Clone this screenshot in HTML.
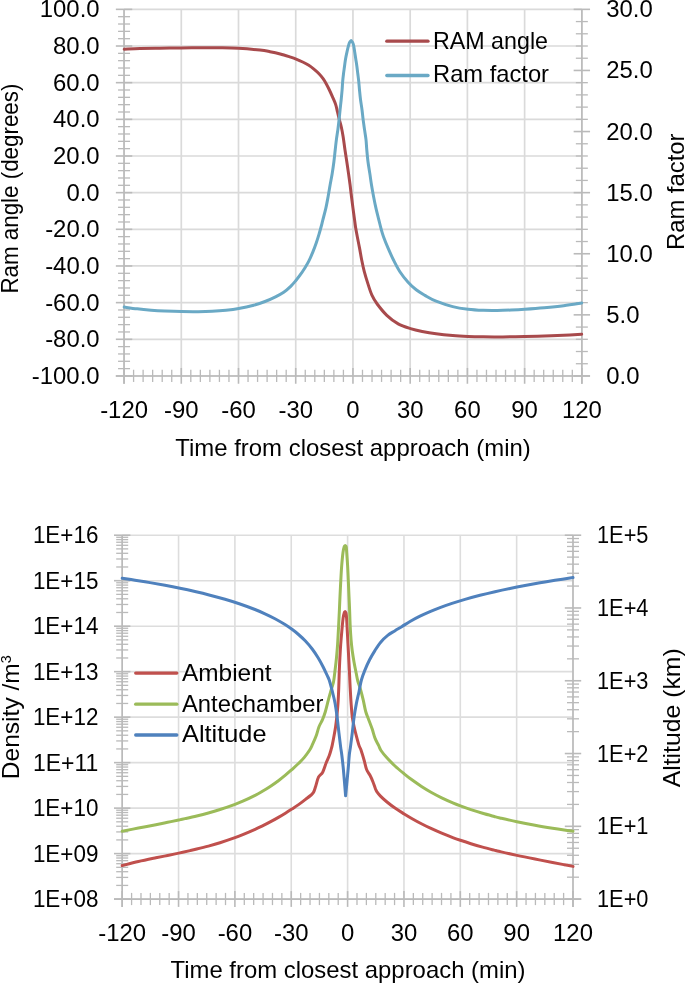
<!DOCTYPE html>
<html><head><meta charset="utf-8"><title>Flyby charts</title>
<style>html,body{margin:0;padding:0;background:#fff}svg{display:block}text{font-family:"Liberation Sans", sans-serif;fill:#000}</style>
</head><body>
<svg width="685" height="984" viewBox="0 0 685 984">
<rect width="685" height="984" fill="#fff"/>
<g id="c1grid">
<line x1="124.05" y1="9.35" x2="581.85" y2="9.35" stroke="#dadada" stroke-width="1.7"/>
<line x1="124.05" y1="46.01" x2="581.85" y2="46.01" stroke="#dadada" stroke-width="1.7"/>
<line x1="124.05" y1="82.67" x2="581.85" y2="82.67" stroke="#dadada" stroke-width="1.7"/>
<line x1="124.05" y1="119.33" x2="581.85" y2="119.33" stroke="#dadada" stroke-width="1.7"/>
<line x1="124.05" y1="155.99" x2="581.85" y2="155.99" stroke="#dadada" stroke-width="1.7"/>
<line x1="124.05" y1="192.65" x2="581.85" y2="192.65" stroke="#dadada" stroke-width="1.7"/>
<line x1="124.05" y1="229.31" x2="581.85" y2="229.31" stroke="#dadada" stroke-width="1.7"/>
<line x1="124.05" y1="265.97" x2="581.85" y2="265.97" stroke="#dadada" stroke-width="1.7"/>
<line x1="124.05" y1="302.63" x2="581.85" y2="302.63" stroke="#dadada" stroke-width="1.7"/>
<line x1="124.05" y1="339.29" x2="581.85" y2="339.29" stroke="#dadada" stroke-width="1.7"/>
<line x1="124.05" y1="375.95" x2="581.85" y2="375.95" stroke="#dadada" stroke-width="1.7"/>
<line x1="124.05" y1="9.35" x2="124.05" y2="375.95" stroke="#dadada" stroke-width="1.7"/>
<line x1="181.28" y1="9.35" x2="181.28" y2="375.95" stroke="#dadada" stroke-width="1.7"/>
<line x1="238.5" y1="9.35" x2="238.5" y2="375.95" stroke="#dadada" stroke-width="1.7"/>
<line x1="295.73" y1="9.35" x2="295.73" y2="375.95" stroke="#dadada" stroke-width="1.7"/>
<line x1="352.95" y1="9.35" x2="352.95" y2="375.95" stroke="#dadada" stroke-width="1.7"/>
<line x1="410.18" y1="9.35" x2="410.18" y2="375.95" stroke="#dadada" stroke-width="1.7"/>
<line x1="467.4" y1="9.35" x2="467.4" y2="375.95" stroke="#dadada" stroke-width="1.7"/>
<line x1="524.62" y1="9.35" x2="524.62" y2="375.95" stroke="#dadada" stroke-width="1.7"/>
<line x1="581.85" y1="9.35" x2="581.85" y2="375.95" stroke="#dadada" stroke-width="1.7"/>
</g>
<g id="c1axes">
<line x1="124.05" y1="9.35" x2="124.05" y2="383.75" stroke="#bababa" stroke-width="1.6"/>
<line x1="581.85" y1="9.35" x2="581.85" y2="383.75" stroke="#bababa" stroke-width="1.6"/>
<line x1="115.85" y1="375.95" x2="590.05" y2="375.95" stroke="#bababa" stroke-width="1.6"/>
<line x1="115.85" y1="9.35" x2="132.25" y2="9.35" stroke="#bababa" stroke-width="1.6"/>
<line x1="115.85" y1="46.01" x2="132.25" y2="46.01" stroke="#bababa" stroke-width="1.6"/>
<line x1="115.85" y1="82.67" x2="132.25" y2="82.67" stroke="#bababa" stroke-width="1.6"/>
<line x1="115.85" y1="119.33" x2="132.25" y2="119.33" stroke="#bababa" stroke-width="1.6"/>
<line x1="115.85" y1="155.99" x2="132.25" y2="155.99" stroke="#bababa" stroke-width="1.6"/>
<line x1="115.85" y1="192.65" x2="132.25" y2="192.65" stroke="#bababa" stroke-width="1.6"/>
<line x1="115.85" y1="229.31" x2="132.25" y2="229.31" stroke="#bababa" stroke-width="1.6"/>
<line x1="115.85" y1="265.97" x2="132.25" y2="265.97" stroke="#bababa" stroke-width="1.6"/>
<line x1="115.85" y1="302.63" x2="132.25" y2="302.63" stroke="#bababa" stroke-width="1.6"/>
<line x1="115.85" y1="339.29" x2="132.25" y2="339.29" stroke="#bababa" stroke-width="1.6"/>
<line x1="115.85" y1="375.95" x2="132.25" y2="375.95" stroke="#bababa" stroke-width="1.6"/>
<line x1="118.05" y1="16.68" x2="130.05" y2="16.68" stroke="#bababa" stroke-width="1.3"/>
<line x1="118.05" y1="24.01" x2="130.05" y2="24.01" stroke="#bababa" stroke-width="1.3"/>
<line x1="118.05" y1="31.35" x2="130.05" y2="31.35" stroke="#bababa" stroke-width="1.3"/>
<line x1="118.05" y1="38.68" x2="130.05" y2="38.68" stroke="#bababa" stroke-width="1.3"/>
<line x1="118.05" y1="53.34" x2="130.05" y2="53.34" stroke="#bababa" stroke-width="1.3"/>
<line x1="118.05" y1="60.67" x2="130.05" y2="60.67" stroke="#bababa" stroke-width="1.3"/>
<line x1="118.05" y1="68.01" x2="130.05" y2="68.01" stroke="#bababa" stroke-width="1.3"/>
<line x1="118.05" y1="75.34" x2="130.05" y2="75.34" stroke="#bababa" stroke-width="1.3"/>
<line x1="118.05" y1="90" x2="130.05" y2="90" stroke="#bababa" stroke-width="1.3"/>
<line x1="118.05" y1="97.33" x2="130.05" y2="97.33" stroke="#bababa" stroke-width="1.3"/>
<line x1="118.05" y1="104.67" x2="130.05" y2="104.67" stroke="#bababa" stroke-width="1.3"/>
<line x1="118.05" y1="112" x2="130.05" y2="112" stroke="#bababa" stroke-width="1.3"/>
<line x1="118.05" y1="126.66" x2="130.05" y2="126.66" stroke="#bababa" stroke-width="1.3"/>
<line x1="118.05" y1="133.99" x2="130.05" y2="133.99" stroke="#bababa" stroke-width="1.3"/>
<line x1="118.05" y1="141.33" x2="130.05" y2="141.33" stroke="#bababa" stroke-width="1.3"/>
<line x1="118.05" y1="148.66" x2="130.05" y2="148.66" stroke="#bababa" stroke-width="1.3"/>
<line x1="118.05" y1="163.32" x2="130.05" y2="163.32" stroke="#bababa" stroke-width="1.3"/>
<line x1="118.05" y1="170.65" x2="130.05" y2="170.65" stroke="#bababa" stroke-width="1.3"/>
<line x1="118.05" y1="177.99" x2="130.05" y2="177.99" stroke="#bababa" stroke-width="1.3"/>
<line x1="118.05" y1="185.32" x2="130.05" y2="185.32" stroke="#bababa" stroke-width="1.3"/>
<line x1="118.05" y1="199.98" x2="130.05" y2="199.98" stroke="#bababa" stroke-width="1.3"/>
<line x1="118.05" y1="207.31" x2="130.05" y2="207.31" stroke="#bababa" stroke-width="1.3"/>
<line x1="118.05" y1="214.65" x2="130.05" y2="214.65" stroke="#bababa" stroke-width="1.3"/>
<line x1="118.05" y1="221.98" x2="130.05" y2="221.98" stroke="#bababa" stroke-width="1.3"/>
<line x1="118.05" y1="236.64" x2="130.05" y2="236.64" stroke="#bababa" stroke-width="1.3"/>
<line x1="118.05" y1="243.97" x2="130.05" y2="243.97" stroke="#bababa" stroke-width="1.3"/>
<line x1="118.05" y1="251.31" x2="130.05" y2="251.31" stroke="#bababa" stroke-width="1.3"/>
<line x1="118.05" y1="258.64" x2="130.05" y2="258.64" stroke="#bababa" stroke-width="1.3"/>
<line x1="118.05" y1="273.3" x2="130.05" y2="273.3" stroke="#bababa" stroke-width="1.3"/>
<line x1="118.05" y1="280.63" x2="130.05" y2="280.63" stroke="#bababa" stroke-width="1.3"/>
<line x1="118.05" y1="287.97" x2="130.05" y2="287.97" stroke="#bababa" stroke-width="1.3"/>
<line x1="118.05" y1="295.3" x2="130.05" y2="295.3" stroke="#bababa" stroke-width="1.3"/>
<line x1="118.05" y1="309.96" x2="130.05" y2="309.96" stroke="#bababa" stroke-width="1.3"/>
<line x1="118.05" y1="317.29" x2="130.05" y2="317.29" stroke="#bababa" stroke-width="1.3"/>
<line x1="118.05" y1="324.63" x2="130.05" y2="324.63" stroke="#bababa" stroke-width="1.3"/>
<line x1="118.05" y1="331.96" x2="130.05" y2="331.96" stroke="#bababa" stroke-width="1.3"/>
<line x1="118.05" y1="346.62" x2="130.05" y2="346.62" stroke="#bababa" stroke-width="1.3"/>
<line x1="118.05" y1="353.95" x2="130.05" y2="353.95" stroke="#bababa" stroke-width="1.3"/>
<line x1="118.05" y1="361.29" x2="130.05" y2="361.29" stroke="#bababa" stroke-width="1.3"/>
<line x1="118.05" y1="368.62" x2="130.05" y2="368.62" stroke="#bababa" stroke-width="1.3"/>
<line x1="573.65" y1="9.35" x2="590.05" y2="9.35" stroke="#bababa" stroke-width="1.6"/>
<line x1="573.65" y1="70.45" x2="590.05" y2="70.45" stroke="#bababa" stroke-width="1.6"/>
<line x1="573.65" y1="131.55" x2="590.05" y2="131.55" stroke="#bababa" stroke-width="1.6"/>
<line x1="573.65" y1="192.65" x2="590.05" y2="192.65" stroke="#bababa" stroke-width="1.6"/>
<line x1="573.65" y1="253.75" x2="590.05" y2="253.75" stroke="#bababa" stroke-width="1.6"/>
<line x1="573.65" y1="314.85" x2="590.05" y2="314.85" stroke="#bababa" stroke-width="1.6"/>
<line x1="573.65" y1="375.95" x2="590.05" y2="375.95" stroke="#bababa" stroke-width="1.6"/>
<line x1="575.85" y1="21.57" x2="587.85" y2="21.57" stroke="#bababa" stroke-width="1.3"/>
<line x1="575.85" y1="33.79" x2="587.85" y2="33.79" stroke="#bababa" stroke-width="1.3"/>
<line x1="575.85" y1="46.01" x2="587.85" y2="46.01" stroke="#bababa" stroke-width="1.3"/>
<line x1="575.85" y1="58.23" x2="587.85" y2="58.23" stroke="#bababa" stroke-width="1.3"/>
<line x1="575.85" y1="82.67" x2="587.85" y2="82.67" stroke="#bababa" stroke-width="1.3"/>
<line x1="575.85" y1="94.89" x2="587.85" y2="94.89" stroke="#bababa" stroke-width="1.3"/>
<line x1="575.85" y1="107.11" x2="587.85" y2="107.11" stroke="#bababa" stroke-width="1.3"/>
<line x1="575.85" y1="119.33" x2="587.85" y2="119.33" stroke="#bababa" stroke-width="1.3"/>
<line x1="575.85" y1="143.77" x2="587.85" y2="143.77" stroke="#bababa" stroke-width="1.3"/>
<line x1="575.85" y1="155.99" x2="587.85" y2="155.99" stroke="#bababa" stroke-width="1.3"/>
<line x1="575.85" y1="168.21" x2="587.85" y2="168.21" stroke="#bababa" stroke-width="1.3"/>
<line x1="575.85" y1="180.43" x2="587.85" y2="180.43" stroke="#bababa" stroke-width="1.3"/>
<line x1="575.85" y1="204.87" x2="587.85" y2="204.87" stroke="#bababa" stroke-width="1.3"/>
<line x1="575.85" y1="217.09" x2="587.85" y2="217.09" stroke="#bababa" stroke-width="1.3"/>
<line x1="575.85" y1="229.31" x2="587.85" y2="229.31" stroke="#bababa" stroke-width="1.3"/>
<line x1="575.85" y1="241.53" x2="587.85" y2="241.53" stroke="#bababa" stroke-width="1.3"/>
<line x1="575.85" y1="265.97" x2="587.85" y2="265.97" stroke="#bababa" stroke-width="1.3"/>
<line x1="575.85" y1="278.19" x2="587.85" y2="278.19" stroke="#bababa" stroke-width="1.3"/>
<line x1="575.85" y1="290.41" x2="587.85" y2="290.41" stroke="#bababa" stroke-width="1.3"/>
<line x1="575.85" y1="302.63" x2="587.85" y2="302.63" stroke="#bababa" stroke-width="1.3"/>
<line x1="575.85" y1="327.07" x2="587.85" y2="327.07" stroke="#bababa" stroke-width="1.3"/>
<line x1="575.85" y1="339.29" x2="587.85" y2="339.29" stroke="#bababa" stroke-width="1.3"/>
<line x1="575.85" y1="351.51" x2="587.85" y2="351.51" stroke="#bababa" stroke-width="1.3"/>
<line x1="575.85" y1="363.73" x2="587.85" y2="363.73" stroke="#bababa" stroke-width="1.3"/>
<line x1="124.05" y1="367.95" x2="124.05" y2="383.75" stroke="#bababa" stroke-width="1.6"/>
<line x1="133.59" y1="369.75" x2="133.59" y2="381.95" stroke="#bababa" stroke-width="1.3"/>
<line x1="143.12" y1="369.75" x2="143.12" y2="381.95" stroke="#bababa" stroke-width="1.3"/>
<line x1="152.66" y1="369.75" x2="152.66" y2="381.95" stroke="#bababa" stroke-width="1.3"/>
<line x1="162.2" y1="369.75" x2="162.2" y2="381.95" stroke="#bababa" stroke-width="1.3"/>
<line x1="171.74" y1="369.75" x2="171.74" y2="381.95" stroke="#bababa" stroke-width="1.3"/>
<line x1="181.28" y1="367.95" x2="181.28" y2="383.75" stroke="#bababa" stroke-width="1.6"/>
<line x1="190.81" y1="369.75" x2="190.81" y2="381.95" stroke="#bababa" stroke-width="1.3"/>
<line x1="200.35" y1="369.75" x2="200.35" y2="381.95" stroke="#bababa" stroke-width="1.3"/>
<line x1="209.89" y1="369.75" x2="209.89" y2="381.95" stroke="#bababa" stroke-width="1.3"/>
<line x1="219.43" y1="369.75" x2="219.43" y2="381.95" stroke="#bababa" stroke-width="1.3"/>
<line x1="228.96" y1="369.75" x2="228.96" y2="381.95" stroke="#bababa" stroke-width="1.3"/>
<line x1="238.5" y1="367.95" x2="238.5" y2="383.75" stroke="#bababa" stroke-width="1.6"/>
<line x1="248.04" y1="369.75" x2="248.04" y2="381.95" stroke="#bababa" stroke-width="1.3"/>
<line x1="257.57" y1="369.75" x2="257.57" y2="381.95" stroke="#bababa" stroke-width="1.3"/>
<line x1="267.11" y1="369.75" x2="267.11" y2="381.95" stroke="#bababa" stroke-width="1.3"/>
<line x1="276.65" y1="369.75" x2="276.65" y2="381.95" stroke="#bababa" stroke-width="1.3"/>
<line x1="286.19" y1="369.75" x2="286.19" y2="381.95" stroke="#bababa" stroke-width="1.3"/>
<line x1="295.72" y1="367.95" x2="295.72" y2="383.75" stroke="#bababa" stroke-width="1.6"/>
<line x1="305.26" y1="369.75" x2="305.26" y2="381.95" stroke="#bababa" stroke-width="1.3"/>
<line x1="314.8" y1="369.75" x2="314.8" y2="381.95" stroke="#bababa" stroke-width="1.3"/>
<line x1="324.34" y1="369.75" x2="324.34" y2="381.95" stroke="#bababa" stroke-width="1.3"/>
<line x1="333.88" y1="369.75" x2="333.88" y2="381.95" stroke="#bababa" stroke-width="1.3"/>
<line x1="343.41" y1="369.75" x2="343.41" y2="381.95" stroke="#bababa" stroke-width="1.3"/>
<line x1="352.95" y1="367.95" x2="352.95" y2="383.75" stroke="#bababa" stroke-width="1.6"/>
<line x1="362.49" y1="369.75" x2="362.49" y2="381.95" stroke="#bababa" stroke-width="1.3"/>
<line x1="372.03" y1="369.75" x2="372.03" y2="381.95" stroke="#bababa" stroke-width="1.3"/>
<line x1="381.56" y1="369.75" x2="381.56" y2="381.95" stroke="#bababa" stroke-width="1.3"/>
<line x1="391.1" y1="369.75" x2="391.1" y2="381.95" stroke="#bababa" stroke-width="1.3"/>
<line x1="400.64" y1="369.75" x2="400.64" y2="381.95" stroke="#bababa" stroke-width="1.3"/>
<line x1="410.18" y1="367.95" x2="410.18" y2="383.75" stroke="#bababa" stroke-width="1.6"/>
<line x1="419.71" y1="369.75" x2="419.71" y2="381.95" stroke="#bababa" stroke-width="1.3"/>
<line x1="429.25" y1="369.75" x2="429.25" y2="381.95" stroke="#bababa" stroke-width="1.3"/>
<line x1="438.79" y1="369.75" x2="438.79" y2="381.95" stroke="#bababa" stroke-width="1.3"/>
<line x1="448.33" y1="369.75" x2="448.33" y2="381.95" stroke="#bababa" stroke-width="1.3"/>
<line x1="457.86" y1="369.75" x2="457.86" y2="381.95" stroke="#bababa" stroke-width="1.3"/>
<line x1="467.4" y1="367.95" x2="467.4" y2="383.75" stroke="#bababa" stroke-width="1.6"/>
<line x1="476.94" y1="369.75" x2="476.94" y2="381.95" stroke="#bababa" stroke-width="1.3"/>
<line x1="486.48" y1="369.75" x2="486.48" y2="381.95" stroke="#bababa" stroke-width="1.3"/>
<line x1="496.01" y1="369.75" x2="496.01" y2="381.95" stroke="#bababa" stroke-width="1.3"/>
<line x1="505.55" y1="369.75" x2="505.55" y2="381.95" stroke="#bababa" stroke-width="1.3"/>
<line x1="515.09" y1="369.75" x2="515.09" y2="381.95" stroke="#bababa" stroke-width="1.3"/>
<line x1="524.62" y1="367.95" x2="524.62" y2="383.75" stroke="#bababa" stroke-width="1.6"/>
<line x1="534.16" y1="369.75" x2="534.16" y2="381.95" stroke="#bababa" stroke-width="1.3"/>
<line x1="543.7" y1="369.75" x2="543.7" y2="381.95" stroke="#bababa" stroke-width="1.3"/>
<line x1="553.24" y1="369.75" x2="553.24" y2="381.95" stroke="#bababa" stroke-width="1.3"/>
<line x1="562.77" y1="369.75" x2="562.77" y2="381.95" stroke="#bababa" stroke-width="1.3"/>
<line x1="572.31" y1="369.75" x2="572.31" y2="381.95" stroke="#bababa" stroke-width="1.3"/>
<line x1="581.85" y1="367.95" x2="581.85" y2="383.75" stroke="#bababa" stroke-width="1.6"/>
</g>
<g id="c1curves">
<path d="M124.2 49.24C126.83 49.14 134.03 48.78 140 48.6C145.97 48.43 153.17 48.31 160 48.21C166.83 48.1 174.33 48.02 181 47.95C187.67 47.88 193.5 47.8 200 47.77C206.5 47.73 213.58 47.68 220 47.76C226.42 47.84 231.83 47.86 238.5 48.24C245.17 48.63 254.75 49.5 260 50.07C265.25 50.64 266.63 51.02 270 51.66C273.37 52.3 276.8 53.04 280.2 53.94C283.6 54.85 287.75 56.24 290.4 57.1C293.05 57.96 294.05 58.28 296.1 59.1C298.15 59.92 300.58 60.97 302.7 62C304.82 63.03 306.93 64.12 308.8 65.3C310.67 66.48 312.2 67.7 313.9 69.1C315.6 70.5 317.47 72.12 319 73.7C320.53 75.28 321.9 76.93 323.1 78.6C324.3 80.27 325.15 81.8 326.2 83.7C327.25 85.6 328.35 87.8 329.4 90C330.45 92.2 331.45 94.47 332.5 96.9C333.55 99.33 334.87 102.1 335.7 104.6C336.53 107.1 336.9 109.43 337.5 111.9C338.1 114.37 338.68 116.97 339.3 119.4C339.92 121.83 340.57 123.65 341.2 126.5C341.83 129.35 342.47 132.58 343.1 136.5C343.73 140.42 344.38 145.8 345 150C345.62 154.2 346.22 157.8 346.8 161.7C347.38 165.6 347.95 169.52 348.5 173.4C349.05 177.28 349.6 181.12 350.1 185C350.6 188.88 351.02 192.8 351.5 196.7C351.98 200.6 352.48 204.5 353 208.4C353.52 212.3 354.17 216.92 354.6 220.1C355.03 223.28 355.15 224.73 355.6 227.5C356.05 230.27 356.63 233.22 357.3 236.7C357.97 240.18 358.87 244.52 359.6 248.4C360.33 252.28 360.92 256.12 361.7 260C362.48 263.88 363.28 267.8 364.3 271.7C365.32 275.6 366.53 279.5 367.8 283.4C369.07 287.3 370.33 291.67 371.9 295.1C373.47 298.53 374.72 300.63 377.2 304C379.68 307.37 383.3 311.98 386.8 315.3C390.3 318.62 394.25 321.68 398.2 323.9C402.15 326.12 406.5 327.34 410.5 328.6C414.5 329.86 417.93 330.58 422.2 331.44C426.47 332.3 431.02 333.09 436.1 333.77C441.18 334.46 447.38 335.09 452.7 335.54C458.02 335.98 462.92 336.21 468 336.43C473.08 336.64 478.35 336.75 483.2 336.83C488.05 336.91 492.47 336.91 497.1 336.9C501.73 336.9 506.38 336.85 511 336.79C515.62 336.73 519.27 336.67 524.8 336.54C530.33 336.42 537.72 336.24 544.2 336.03C550.68 335.81 557.45 335.57 563.7 335.28C569.95 334.98 578.7 334.43 581.7 334.26" fill="none" stroke="#a84a4c" stroke-width="3" stroke-linecap="round" stroke-linejoin="round"/>
<path d="M124.2 307.08C126.37 307.38 132.72 308.34 137.2 308.86C141.68 309.37 146.48 309.8 151.1 310.16C155.72 310.52 159.82 310.77 164.9 311.01C169.98 311.24 176.05 311.47 181.6 311.58C187.15 311.68 193.12 311.71 198.2 311.66C203.28 311.6 207.47 311.49 212.1 311.25C216.73 311.01 221.57 310.67 226 310.22C230.43 309.76 234.08 309.35 238.7 308.51C243.32 307.68 249.32 306.37 253.7 305.2C258.08 304.03 261.37 302.88 265 301.48C268.63 300.08 272.38 298.35 275.5 296.8C278.62 295.25 281.17 293.95 283.7 292.2C286.23 290.45 288.67 288.25 290.7 286.3C292.73 284.35 294.35 282.35 295.9 280.5C297.45 278.65 298.53 277.25 300 275.2C301.47 273.15 303.23 270.53 304.7 268.2C306.17 265.87 307.43 263.92 308.8 261.2C310.17 258.48 311.63 255.02 312.9 251.9C314.17 248.78 315.33 245.62 316.4 242.5C317.47 239.38 318.43 236.12 319.3 233.2C320.17 230.28 321.02 227.18 321.6 225C322.18 222.82 322.1 222.87 322.8 220.1C323.5 217.33 324.92 212.3 325.8 208.4C326.68 204.5 327.38 200.6 328.1 196.7C328.82 192.8 329.42 188.88 330.1 185C330.78 181.12 331.57 177.28 332.2 173.4C332.83 169.52 333.4 165.6 333.9 161.7C334.4 157.8 334.78 153.68 335.2 150C335.62 146.32 335.95 143.03 336.4 139.6C336.85 136.17 337.45 132.77 337.9 129.4C338.35 126.03 338.73 122.68 339.1 119.4C339.47 116.12 339.75 113.02 340.1 109.7C340.45 106.38 340.87 102.78 341.2 99.5C341.53 96.22 341.85 93.07 342.1 90C342.35 86.93 342.47 83.8 342.7 81.1C342.93 78.4 343.2 76.23 343.5 73.8C343.8 71.37 344.17 68.93 344.5 66.5C344.83 64.07 345.08 61.63 345.5 59.2C345.92 56.77 346.5 54.15 347 51.9C347.5 49.65 348.07 47.28 348.5 45.7C348.93 44.12 349.15 43.25 349.6 42.4C350.05 41.55 350.93 40.9 351.2 40.6C351.43 40.9 352.18 41.55 352.6 42.4C353.02 43.25 353.35 44.12 353.7 45.7C354.05 47.28 354.35 49.65 354.7 51.9C355.05 54.15 355.43 56.77 355.8 59.2C356.17 61.63 356.57 64.07 356.9 66.5C357.23 68.93 357.5 71.37 357.8 73.8C358.1 76.23 358.42 78.4 358.7 81.1C358.98 83.8 359.2 86.93 359.5 90C359.8 93.07 360.08 96.22 360.5 99.5C360.92 102.78 361.57 106.38 362 109.7C362.43 113.02 362.68 116.12 363.1 119.4C363.52 122.68 364.02 126.03 364.5 129.4C364.98 132.77 365.62 136.17 366 139.6C366.38 143.03 366.47 146.32 366.8 150C367.13 153.68 367.5 157.8 368 161.7C368.5 165.6 369.22 169.52 369.8 173.4C370.38 177.28 370.87 181.12 371.5 185C372.13 188.88 372.85 192.8 373.6 196.7C374.35 200.6 375.12 204.5 376 208.4C376.88 212.3 378 216.5 378.9 220.1C379.8 223.7 380.63 227.23 381.4 230C382.17 232.77 382.37 233.63 383.5 236.7C384.63 239.77 386.53 244.52 388.2 248.4C389.87 252.28 391.55 256.12 393.5 260C395.45 263.88 397.47 268 399.9 271.7C402.33 275.4 405.38 279.18 408.1 282.2C410.82 285.22 413.38 287.6 416.2 289.8C419.02 292 421.68 293.5 425 295.4C428.32 297.3 431.48 299.33 436.1 301.2C440.72 303.07 447.38 305.27 452.7 306.61C458.02 307.96 462.92 308.64 468 309.27C473.08 309.9 478.35 310.17 483.2 310.37C488.05 310.58 492.47 310.54 497.1 310.49C501.73 310.43 506.38 310.25 511 310.05C515.62 309.84 519.27 309.65 524.8 309.26C530.33 308.88 537.72 308.34 544.2 307.74C550.68 307.14 557.45 306.47 563.7 305.66C569.95 304.86 578.7 303.38 581.7 302.92" fill="none" stroke="#6aa9c5" stroke-width="3" stroke-linecap="round" stroke-linejoin="round"/>
</g>
<g id="c1legend">
<path d="M386.8 41.2L428 41.2" fill="none" stroke="#a84a4c" stroke-width="3.3" stroke-linecap="round" stroke-linejoin="round"/>
<path d="M386.8 75.5L428 75.5" fill="none" stroke="#6aa9c5" stroke-width="3.3" stroke-linecap="round" stroke-linejoin="round"/>
</g>
<g id="c1labels" opacity="0.999">
<text x="433" y="48.6" font-size="23.8" text-anchor="start" textLength="115" lengthAdjust="spacingAndGlyphs">RAM angle</text>
<text x="433" y="81.6" font-size="23.8" text-anchor="start" textLength="116" lengthAdjust="spacingAndGlyphs">Ram factor</text>
<text transform="translate(99.6 17.35) scale(1.03 1)" font-size="23.2" text-anchor="end">100.0</text>
<text transform="translate(99.6 54.01) scale(1.03 1)" font-size="23.2" text-anchor="end">80.0</text>
<text transform="translate(99.6 90.67) scale(1.03 1)" font-size="23.2" text-anchor="end">60.0</text>
<text transform="translate(99.6 127.33) scale(1.03 1)" font-size="23.2" text-anchor="end">40.0</text>
<text transform="translate(99.6 163.99) scale(1.03 1)" font-size="23.2" text-anchor="end">20.0</text>
<text transform="translate(99.6 200.65) scale(1.03 1)" font-size="23.2" text-anchor="end">0.0</text>
<text transform="translate(99.6 237.31) scale(1.03 1)" font-size="23.2" text-anchor="end">-20.0</text>
<text transform="translate(99.6 273.97) scale(1.03 1)" font-size="23.2" text-anchor="end">-40.0</text>
<text transform="translate(99.6 310.63) scale(1.03 1)" font-size="23.2" text-anchor="end">-60.0</text>
<text transform="translate(99.6 347.29) scale(1.03 1)" font-size="23.2" text-anchor="end">-80.0</text>
<text transform="translate(99.6 383.95) scale(1.03 1)" font-size="23.2" text-anchor="end">-100.0</text>
<text transform="translate(606.2 17.35) scale(1.03 1)" font-size="23.2" text-anchor="start">30.0</text>
<text transform="translate(606.2 78.45) scale(1.03 1)" font-size="23.2" text-anchor="start">25.0</text>
<text transform="translate(606.2 139.55) scale(1.03 1)" font-size="23.2" text-anchor="start">20.0</text>
<text transform="translate(606.2 200.65) scale(1.03 1)" font-size="23.2" text-anchor="start">15.0</text>
<text transform="translate(606.2 261.75) scale(1.03 1)" font-size="23.2" text-anchor="start">10.0</text>
<text transform="translate(606.2 322.85) scale(1.03 1)" font-size="23.2" text-anchor="start">5.0</text>
<text transform="translate(606.2 383.95) scale(1.03 1)" font-size="23.2" text-anchor="start">0.0</text>
<text transform="translate(124.05 417.8) scale(1.03 1)" font-size="23.2" text-anchor="middle">-120</text>
<text transform="translate(181.28 417.8) scale(1.03 1)" font-size="23.2" text-anchor="middle">-90</text>
<text transform="translate(238.5 417.8) scale(1.03 1)" font-size="23.2" text-anchor="middle">-60</text>
<text transform="translate(295.73 417.8) scale(1.03 1)" font-size="23.2" text-anchor="middle">-30</text>
<text transform="translate(352.95 417.8) scale(1.03 1)" font-size="23.2" text-anchor="middle">0</text>
<text transform="translate(410.18 417.8) scale(1.03 1)" font-size="23.2" text-anchor="middle">30</text>
<text transform="translate(467.4 417.8) scale(1.03 1)" font-size="23.2" text-anchor="middle">60</text>
<text transform="translate(524.62 417.8) scale(1.03 1)" font-size="23.2" text-anchor="middle">90</text>
<text transform="translate(581.85 417.8) scale(1.03 1)" font-size="23.2" text-anchor="middle">120</text>
<text x="353" y="455.9" font-size="23.8" text-anchor="middle" textLength="355.5" lengthAdjust="spacingAndGlyphs">Time from closest approach (min)</text>
<text x="18.5" y="188.6" font-size="23.8" text-anchor="middle" textLength="210" lengthAdjust="spacingAndGlyphs" transform="rotate(-90 18.5 188.6)">Ram angle (degrees)</text>
<text x="684" y="191.8" font-size="23.8" text-anchor="middle" textLength="116.5" lengthAdjust="spacingAndGlyphs" transform="rotate(-90 684 191.8)">Ram factor</text>
</g>
<g id="c2grid">
<line x1="122.2" y1="535.2" x2="573" y2="535.2" stroke="#dddddd" stroke-width="1.6"/>
<line x1="122.2" y1="580.69" x2="573" y2="580.69" stroke="#dddddd" stroke-width="1.6"/>
<line x1="122.2" y1="626.18" x2="573" y2="626.18" stroke="#dddddd" stroke-width="1.6"/>
<line x1="122.2" y1="671.66" x2="573" y2="671.66" stroke="#dddddd" stroke-width="1.6"/>
<line x1="122.2" y1="717.15" x2="573" y2="717.15" stroke="#dddddd" stroke-width="1.6"/>
<line x1="122.2" y1="762.64" x2="573" y2="762.64" stroke="#dddddd" stroke-width="1.6"/>
<line x1="122.2" y1="808.12" x2="573" y2="808.12" stroke="#dddddd" stroke-width="1.6"/>
<line x1="122.2" y1="853.61" x2="573" y2="853.61" stroke="#dddddd" stroke-width="1.6"/>
<line x1="122.2" y1="899.1" x2="573" y2="899.1" stroke="#dddddd" stroke-width="1.6"/>
<line x1="122.2" y1="535.2" x2="122.2" y2="899.1" stroke="#dddddd" stroke-width="1.6"/>
<line x1="178.55" y1="535.2" x2="178.55" y2="899.1" stroke="#dddddd" stroke-width="1.6"/>
<line x1="234.9" y1="535.2" x2="234.9" y2="899.1" stroke="#dddddd" stroke-width="1.6"/>
<line x1="291.25" y1="535.2" x2="291.25" y2="899.1" stroke="#dddddd" stroke-width="1.6"/>
<line x1="347.6" y1="535.2" x2="347.6" y2="899.1" stroke="#dddddd" stroke-width="1.6"/>
<line x1="403.95" y1="535.2" x2="403.95" y2="899.1" stroke="#dddddd" stroke-width="1.6"/>
<line x1="460.3" y1="535.2" x2="460.3" y2="899.1" stroke="#dddddd" stroke-width="1.6"/>
<line x1="516.65" y1="535.2" x2="516.65" y2="899.1" stroke="#dddddd" stroke-width="1.6"/>
<line x1="573" y1="535.2" x2="573" y2="899.1" stroke="#dddddd" stroke-width="1.6"/>
</g>
<g id="c2axes">
<line x1="122.2" y1="535.2" x2="122.2" y2="906.9" stroke="#bababa" stroke-width="1.6"/>
<line x1="573" y1="535.2" x2="573" y2="906.9" stroke="#bababa" stroke-width="1.6"/>
<line x1="114" y1="899.1" x2="581.2" y2="899.1" stroke="#bababa" stroke-width="1.6"/>
<line x1="114" y1="535.2" x2="130.4" y2="535.2" stroke="#bababa" stroke-width="1.6"/>
<line x1="114" y1="580.69" x2="130.4" y2="580.69" stroke="#bababa" stroke-width="1.6"/>
<line x1="114" y1="626.18" x2="130.4" y2="626.18" stroke="#bababa" stroke-width="1.6"/>
<line x1="114" y1="671.66" x2="130.4" y2="671.66" stroke="#bababa" stroke-width="1.6"/>
<line x1="114" y1="717.15" x2="130.4" y2="717.15" stroke="#bababa" stroke-width="1.6"/>
<line x1="114" y1="762.64" x2="130.4" y2="762.64" stroke="#bababa" stroke-width="1.6"/>
<line x1="114" y1="808.12" x2="130.4" y2="808.12" stroke="#bababa" stroke-width="1.6"/>
<line x1="114" y1="853.61" x2="130.4" y2="853.61" stroke="#bababa" stroke-width="1.6"/>
<line x1="114" y1="899.1" x2="130.4" y2="899.1" stroke="#bababa" stroke-width="1.6"/>
<line x1="116.2" y1="566.99" x2="128.2" y2="566.99" stroke="#bababa" stroke-width="1.3"/>
<line x1="116.2" y1="558.98" x2="128.2" y2="558.98" stroke="#bababa" stroke-width="1.3"/>
<line x1="116.2" y1="553.3" x2="128.2" y2="553.3" stroke="#bababa" stroke-width="1.3"/>
<line x1="116.2" y1="548.89" x2="128.2" y2="548.89" stroke="#bababa" stroke-width="1.3"/>
<line x1="116.2" y1="545.29" x2="128.2" y2="545.29" stroke="#bababa" stroke-width="1.3"/>
<line x1="116.2" y1="542.25" x2="128.2" y2="542.25" stroke="#bababa" stroke-width="1.3"/>
<line x1="116.2" y1="539.61" x2="128.2" y2="539.61" stroke="#bababa" stroke-width="1.3"/>
<line x1="116.2" y1="537.28" x2="128.2" y2="537.28" stroke="#bababa" stroke-width="1.3"/>
<line x1="116.2" y1="612.48" x2="128.2" y2="612.48" stroke="#bababa" stroke-width="1.3"/>
<line x1="116.2" y1="604.47" x2="128.2" y2="604.47" stroke="#bababa" stroke-width="1.3"/>
<line x1="116.2" y1="598.79" x2="128.2" y2="598.79" stroke="#bababa" stroke-width="1.3"/>
<line x1="116.2" y1="594.38" x2="128.2" y2="594.38" stroke="#bababa" stroke-width="1.3"/>
<line x1="116.2" y1="590.78" x2="128.2" y2="590.78" stroke="#bababa" stroke-width="1.3"/>
<line x1="116.2" y1="587.73" x2="128.2" y2="587.73" stroke="#bababa" stroke-width="1.3"/>
<line x1="116.2" y1="585.1" x2="128.2" y2="585.1" stroke="#bababa" stroke-width="1.3"/>
<line x1="116.2" y1="582.77" x2="128.2" y2="582.77" stroke="#bababa" stroke-width="1.3"/>
<line x1="116.2" y1="657.97" x2="128.2" y2="657.97" stroke="#bababa" stroke-width="1.3"/>
<line x1="116.2" y1="649.96" x2="128.2" y2="649.96" stroke="#bababa" stroke-width="1.3"/>
<line x1="116.2" y1="644.28" x2="128.2" y2="644.28" stroke="#bababa" stroke-width="1.3"/>
<line x1="116.2" y1="639.87" x2="128.2" y2="639.87" stroke="#bababa" stroke-width="1.3"/>
<line x1="116.2" y1="636.27" x2="128.2" y2="636.27" stroke="#bababa" stroke-width="1.3"/>
<line x1="116.2" y1="633.22" x2="128.2" y2="633.22" stroke="#bababa" stroke-width="1.3"/>
<line x1="116.2" y1="630.58" x2="128.2" y2="630.58" stroke="#bababa" stroke-width="1.3"/>
<line x1="116.2" y1="628.26" x2="128.2" y2="628.26" stroke="#bababa" stroke-width="1.3"/>
<line x1="116.2" y1="703.46" x2="128.2" y2="703.46" stroke="#bababa" stroke-width="1.3"/>
<line x1="116.2" y1="695.45" x2="128.2" y2="695.45" stroke="#bababa" stroke-width="1.3"/>
<line x1="116.2" y1="689.76" x2="128.2" y2="689.76" stroke="#bababa" stroke-width="1.3"/>
<line x1="116.2" y1="685.36" x2="128.2" y2="685.36" stroke="#bababa" stroke-width="1.3"/>
<line x1="116.2" y1="681.75" x2="128.2" y2="681.75" stroke="#bababa" stroke-width="1.3"/>
<line x1="116.2" y1="678.71" x2="128.2" y2="678.71" stroke="#bababa" stroke-width="1.3"/>
<line x1="116.2" y1="676.07" x2="128.2" y2="676.07" stroke="#bababa" stroke-width="1.3"/>
<line x1="116.2" y1="673.74" x2="128.2" y2="673.74" stroke="#bababa" stroke-width="1.3"/>
<line x1="116.2" y1="748.94" x2="128.2" y2="748.94" stroke="#bababa" stroke-width="1.3"/>
<line x1="116.2" y1="740.93" x2="128.2" y2="740.93" stroke="#bababa" stroke-width="1.3"/>
<line x1="116.2" y1="735.25" x2="128.2" y2="735.25" stroke="#bababa" stroke-width="1.3"/>
<line x1="116.2" y1="730.84" x2="128.2" y2="730.84" stroke="#bababa" stroke-width="1.3"/>
<line x1="116.2" y1="727.24" x2="128.2" y2="727.24" stroke="#bababa" stroke-width="1.3"/>
<line x1="116.2" y1="724.2" x2="128.2" y2="724.2" stroke="#bababa" stroke-width="1.3"/>
<line x1="116.2" y1="721.56" x2="128.2" y2="721.56" stroke="#bababa" stroke-width="1.3"/>
<line x1="116.2" y1="719.23" x2="128.2" y2="719.23" stroke="#bababa" stroke-width="1.3"/>
<line x1="116.2" y1="794.43" x2="128.2" y2="794.43" stroke="#bababa" stroke-width="1.3"/>
<line x1="116.2" y1="786.42" x2="128.2" y2="786.42" stroke="#bababa" stroke-width="1.3"/>
<line x1="116.2" y1="780.74" x2="128.2" y2="780.74" stroke="#bababa" stroke-width="1.3"/>
<line x1="116.2" y1="776.33" x2="128.2" y2="776.33" stroke="#bababa" stroke-width="1.3"/>
<line x1="116.2" y1="772.73" x2="128.2" y2="772.73" stroke="#bababa" stroke-width="1.3"/>
<line x1="116.2" y1="769.68" x2="128.2" y2="769.68" stroke="#bababa" stroke-width="1.3"/>
<line x1="116.2" y1="767.05" x2="128.2" y2="767.05" stroke="#bababa" stroke-width="1.3"/>
<line x1="116.2" y1="764.72" x2="128.2" y2="764.72" stroke="#bababa" stroke-width="1.3"/>
<line x1="116.2" y1="839.92" x2="128.2" y2="839.92" stroke="#bababa" stroke-width="1.3"/>
<line x1="116.2" y1="831.91" x2="128.2" y2="831.91" stroke="#bababa" stroke-width="1.3"/>
<line x1="116.2" y1="826.23" x2="128.2" y2="826.23" stroke="#bababa" stroke-width="1.3"/>
<line x1="116.2" y1="821.82" x2="128.2" y2="821.82" stroke="#bababa" stroke-width="1.3"/>
<line x1="116.2" y1="818.22" x2="128.2" y2="818.22" stroke="#bababa" stroke-width="1.3"/>
<line x1="116.2" y1="815.17" x2="128.2" y2="815.17" stroke="#bababa" stroke-width="1.3"/>
<line x1="116.2" y1="812.53" x2="128.2" y2="812.53" stroke="#bababa" stroke-width="1.3"/>
<line x1="116.2" y1="810.21" x2="128.2" y2="810.21" stroke="#bababa" stroke-width="1.3"/>
<line x1="116.2" y1="885.41" x2="128.2" y2="885.41" stroke="#bababa" stroke-width="1.3"/>
<line x1="116.2" y1="877.4" x2="128.2" y2="877.4" stroke="#bababa" stroke-width="1.3"/>
<line x1="116.2" y1="871.71" x2="128.2" y2="871.71" stroke="#bababa" stroke-width="1.3"/>
<line x1="116.2" y1="867.31" x2="128.2" y2="867.31" stroke="#bababa" stroke-width="1.3"/>
<line x1="116.2" y1="863.7" x2="128.2" y2="863.7" stroke="#bababa" stroke-width="1.3"/>
<line x1="116.2" y1="860.66" x2="128.2" y2="860.66" stroke="#bababa" stroke-width="1.3"/>
<line x1="116.2" y1="858.02" x2="128.2" y2="858.02" stroke="#bababa" stroke-width="1.3"/>
<line x1="116.2" y1="855.69" x2="128.2" y2="855.69" stroke="#bababa" stroke-width="1.3"/>
<line x1="564.8" y1="535.2" x2="581.2" y2="535.2" stroke="#bababa" stroke-width="1.6"/>
<line x1="564.8" y1="607.98" x2="581.2" y2="607.98" stroke="#bababa" stroke-width="1.6"/>
<line x1="564.8" y1="680.76" x2="581.2" y2="680.76" stroke="#bababa" stroke-width="1.6"/>
<line x1="564.8" y1="753.54" x2="581.2" y2="753.54" stroke="#bababa" stroke-width="1.6"/>
<line x1="564.8" y1="826.32" x2="581.2" y2="826.32" stroke="#bababa" stroke-width="1.6"/>
<line x1="564.8" y1="899.1" x2="581.2" y2="899.1" stroke="#bababa" stroke-width="1.6"/>
<line x1="567" y1="586.07" x2="579" y2="586.07" stroke="#bababa" stroke-width="1.3"/>
<line x1="567" y1="573.26" x2="579" y2="573.26" stroke="#bababa" stroke-width="1.3"/>
<line x1="567" y1="564.16" x2="579" y2="564.16" stroke="#bababa" stroke-width="1.3"/>
<line x1="567" y1="557.11" x2="579" y2="557.11" stroke="#bababa" stroke-width="1.3"/>
<line x1="567" y1="551.35" x2="579" y2="551.35" stroke="#bababa" stroke-width="1.3"/>
<line x1="567" y1="546.47" x2="579" y2="546.47" stroke="#bababa" stroke-width="1.3"/>
<line x1="567" y1="542.25" x2="579" y2="542.25" stroke="#bababa" stroke-width="1.3"/>
<line x1="567" y1="538.53" x2="579" y2="538.53" stroke="#bababa" stroke-width="1.3"/>
<line x1="567" y1="658.85" x2="579" y2="658.85" stroke="#bababa" stroke-width="1.3"/>
<line x1="567" y1="646.04" x2="579" y2="646.04" stroke="#bababa" stroke-width="1.3"/>
<line x1="567" y1="636.94" x2="579" y2="636.94" stroke="#bababa" stroke-width="1.3"/>
<line x1="567" y1="629.89" x2="579" y2="629.89" stroke="#bababa" stroke-width="1.3"/>
<line x1="567" y1="624.13" x2="579" y2="624.13" stroke="#bababa" stroke-width="1.3"/>
<line x1="567" y1="619.25" x2="579" y2="619.25" stroke="#bababa" stroke-width="1.3"/>
<line x1="567" y1="615.03" x2="579" y2="615.03" stroke="#bababa" stroke-width="1.3"/>
<line x1="567" y1="611.31" x2="579" y2="611.31" stroke="#bababa" stroke-width="1.3"/>
<line x1="567" y1="731.63" x2="579" y2="731.63" stroke="#bababa" stroke-width="1.3"/>
<line x1="567" y1="718.82" x2="579" y2="718.82" stroke="#bababa" stroke-width="1.3"/>
<line x1="567" y1="709.72" x2="579" y2="709.72" stroke="#bababa" stroke-width="1.3"/>
<line x1="567" y1="702.67" x2="579" y2="702.67" stroke="#bababa" stroke-width="1.3"/>
<line x1="567" y1="696.91" x2="579" y2="696.91" stroke="#bababa" stroke-width="1.3"/>
<line x1="567" y1="692.03" x2="579" y2="692.03" stroke="#bababa" stroke-width="1.3"/>
<line x1="567" y1="687.81" x2="579" y2="687.81" stroke="#bababa" stroke-width="1.3"/>
<line x1="567" y1="684.09" x2="579" y2="684.09" stroke="#bababa" stroke-width="1.3"/>
<line x1="567" y1="804.41" x2="579" y2="804.41" stroke="#bababa" stroke-width="1.3"/>
<line x1="567" y1="791.6" x2="579" y2="791.6" stroke="#bababa" stroke-width="1.3"/>
<line x1="567" y1="782.5" x2="579" y2="782.5" stroke="#bababa" stroke-width="1.3"/>
<line x1="567" y1="775.45" x2="579" y2="775.45" stroke="#bababa" stroke-width="1.3"/>
<line x1="567" y1="769.69" x2="579" y2="769.69" stroke="#bababa" stroke-width="1.3"/>
<line x1="567" y1="764.81" x2="579" y2="764.81" stroke="#bababa" stroke-width="1.3"/>
<line x1="567" y1="760.59" x2="579" y2="760.59" stroke="#bababa" stroke-width="1.3"/>
<line x1="567" y1="756.87" x2="579" y2="756.87" stroke="#bababa" stroke-width="1.3"/>
<line x1="567" y1="877.19" x2="579" y2="877.19" stroke="#bababa" stroke-width="1.3"/>
<line x1="567" y1="864.38" x2="579" y2="864.38" stroke="#bababa" stroke-width="1.3"/>
<line x1="567" y1="855.28" x2="579" y2="855.28" stroke="#bababa" stroke-width="1.3"/>
<line x1="567" y1="848.23" x2="579" y2="848.23" stroke="#bababa" stroke-width="1.3"/>
<line x1="567" y1="842.47" x2="579" y2="842.47" stroke="#bababa" stroke-width="1.3"/>
<line x1="567" y1="837.59" x2="579" y2="837.59" stroke="#bababa" stroke-width="1.3"/>
<line x1="567" y1="833.37" x2="579" y2="833.37" stroke="#bababa" stroke-width="1.3"/>
<line x1="567" y1="829.65" x2="579" y2="829.65" stroke="#bababa" stroke-width="1.3"/>
<line x1="122.2" y1="891.1" x2="122.2" y2="906.9" stroke="#bababa" stroke-width="1.6"/>
<line x1="131.59" y1="892.9" x2="131.59" y2="905.1" stroke="#bababa" stroke-width="1.3"/>
<line x1="140.98" y1="892.9" x2="140.98" y2="905.1" stroke="#bababa" stroke-width="1.3"/>
<line x1="150.38" y1="892.9" x2="150.38" y2="905.1" stroke="#bababa" stroke-width="1.3"/>
<line x1="159.77" y1="892.9" x2="159.77" y2="905.1" stroke="#bababa" stroke-width="1.3"/>
<line x1="169.16" y1="892.9" x2="169.16" y2="905.1" stroke="#bababa" stroke-width="1.3"/>
<line x1="178.55" y1="891.1" x2="178.55" y2="906.9" stroke="#bababa" stroke-width="1.6"/>
<line x1="187.94" y1="892.9" x2="187.94" y2="905.1" stroke="#bababa" stroke-width="1.3"/>
<line x1="197.33" y1="892.9" x2="197.33" y2="905.1" stroke="#bababa" stroke-width="1.3"/>
<line x1="206.73" y1="892.9" x2="206.73" y2="905.1" stroke="#bababa" stroke-width="1.3"/>
<line x1="216.12" y1="892.9" x2="216.12" y2="905.1" stroke="#bababa" stroke-width="1.3"/>
<line x1="225.51" y1="892.9" x2="225.51" y2="905.1" stroke="#bababa" stroke-width="1.3"/>
<line x1="234.9" y1="891.1" x2="234.9" y2="906.9" stroke="#bababa" stroke-width="1.6"/>
<line x1="244.29" y1="892.9" x2="244.29" y2="905.1" stroke="#bababa" stroke-width="1.3"/>
<line x1="253.68" y1="892.9" x2="253.68" y2="905.1" stroke="#bababa" stroke-width="1.3"/>
<line x1="263.07" y1="892.9" x2="263.07" y2="905.1" stroke="#bababa" stroke-width="1.3"/>
<line x1="272.47" y1="892.9" x2="272.47" y2="905.1" stroke="#bababa" stroke-width="1.3"/>
<line x1="281.86" y1="892.9" x2="281.86" y2="905.1" stroke="#bababa" stroke-width="1.3"/>
<line x1="291.25" y1="891.1" x2="291.25" y2="906.9" stroke="#bababa" stroke-width="1.6"/>
<line x1="300.64" y1="892.9" x2="300.64" y2="905.1" stroke="#bababa" stroke-width="1.3"/>
<line x1="310.03" y1="892.9" x2="310.03" y2="905.1" stroke="#bababa" stroke-width="1.3"/>
<line x1="319.43" y1="892.9" x2="319.43" y2="905.1" stroke="#bababa" stroke-width="1.3"/>
<line x1="328.82" y1="892.9" x2="328.82" y2="905.1" stroke="#bababa" stroke-width="1.3"/>
<line x1="338.21" y1="892.9" x2="338.21" y2="905.1" stroke="#bababa" stroke-width="1.3"/>
<line x1="347.6" y1="891.1" x2="347.6" y2="906.9" stroke="#bababa" stroke-width="1.6"/>
<line x1="356.99" y1="892.9" x2="356.99" y2="905.1" stroke="#bababa" stroke-width="1.3"/>
<line x1="366.38" y1="892.9" x2="366.38" y2="905.1" stroke="#bababa" stroke-width="1.3"/>
<line x1="375.78" y1="892.9" x2="375.78" y2="905.1" stroke="#bababa" stroke-width="1.3"/>
<line x1="385.17" y1="892.9" x2="385.17" y2="905.1" stroke="#bababa" stroke-width="1.3"/>
<line x1="394.56" y1="892.9" x2="394.56" y2="905.1" stroke="#bababa" stroke-width="1.3"/>
<line x1="403.95" y1="891.1" x2="403.95" y2="906.9" stroke="#bababa" stroke-width="1.6"/>
<line x1="413.34" y1="892.9" x2="413.34" y2="905.1" stroke="#bababa" stroke-width="1.3"/>
<line x1="422.73" y1="892.9" x2="422.73" y2="905.1" stroke="#bababa" stroke-width="1.3"/>
<line x1="432.12" y1="892.9" x2="432.12" y2="905.1" stroke="#bababa" stroke-width="1.3"/>
<line x1="441.52" y1="892.9" x2="441.52" y2="905.1" stroke="#bababa" stroke-width="1.3"/>
<line x1="450.91" y1="892.9" x2="450.91" y2="905.1" stroke="#bababa" stroke-width="1.3"/>
<line x1="460.3" y1="891.1" x2="460.3" y2="906.9" stroke="#bababa" stroke-width="1.6"/>
<line x1="469.69" y1="892.9" x2="469.69" y2="905.1" stroke="#bababa" stroke-width="1.3"/>
<line x1="479.08" y1="892.9" x2="479.08" y2="905.1" stroke="#bababa" stroke-width="1.3"/>
<line x1="488.48" y1="892.9" x2="488.48" y2="905.1" stroke="#bababa" stroke-width="1.3"/>
<line x1="497.87" y1="892.9" x2="497.87" y2="905.1" stroke="#bababa" stroke-width="1.3"/>
<line x1="507.26" y1="892.9" x2="507.26" y2="905.1" stroke="#bababa" stroke-width="1.3"/>
<line x1="516.65" y1="891.1" x2="516.65" y2="906.9" stroke="#bababa" stroke-width="1.6"/>
<line x1="526.04" y1="892.9" x2="526.04" y2="905.1" stroke="#bababa" stroke-width="1.3"/>
<line x1="535.43" y1="892.9" x2="535.43" y2="905.1" stroke="#bababa" stroke-width="1.3"/>
<line x1="544.83" y1="892.9" x2="544.83" y2="905.1" stroke="#bababa" stroke-width="1.3"/>
<line x1="554.22" y1="892.9" x2="554.22" y2="905.1" stroke="#bababa" stroke-width="1.3"/>
<line x1="563.61" y1="892.9" x2="563.61" y2="905.1" stroke="#bababa" stroke-width="1.3"/>
<line x1="573" y1="891.1" x2="573" y2="906.9" stroke="#bababa" stroke-width="1.6"/>
</g>
<g id="c2curves">
<path d="M122.2 865.57C124.9 864.9 132.78 862.86 138.4 861.57C144.02 860.28 151.03 858.84 155.9 857.82C160.77 856.8 163.8 856.22 167.6 855.44C171.4 854.66 174.97 853.93 178.7 853.14C182.43 852.34 187 851.33 190 850.66C193 849.98 193.63 849.84 196.7 849.08C199.77 848.32 204.52 847.14 208.4 846.09C212.28 845.03 215.57 844.13 220 842.73C224.43 841.32 231.1 839.06 235 837.68C238.9 836.3 240.05 835.83 243.4 834.45C246.75 833.08 252 830.81 255.1 829.43C258.2 828.05 259.48 827.4 262 826.15C264.52 824.91 267.47 823.41 270.2 821.94C272.93 820.48 275.87 818.83 278.4 817.37C280.93 815.91 283.17 814.55 285.4 813.17C287.63 811.79 289.67 810.47 291.8 809.09C293.93 807.71 295.97 806.48 298.2 804.9C300.43 803.32 303.15 801.17 305.2 799.6C307.25 798.03 309.13 796.67 310.5 795.5C311.87 794.33 312.53 794.15 313.4 792.6C314.27 791.05 314.83 788.82 315.7 786.2C316.57 783.58 317.43 779.23 318.6 776.9C319.77 774.57 321.43 774.55 322.7 772.2C323.97 769.85 325.12 765.53 326.2 762.8C327.28 760.07 328.4 757.93 329.2 755.8C330 753.67 330.5 751.73 331 750C331.5 748.27 331.7 747.72 332.2 745.4C332.7 743.08 333.43 739.22 334 736.1C334.57 732.98 335.13 729.88 335.6 726.7C336.07 723.52 336.4 720.88 336.8 717C337.2 713.12 337.7 707.62 338 703.4C338.3 699.18 338.43 695.6 338.6 691.7C338.77 687.8 338.88 683.5 339 680C339.12 676.5 339.15 674.43 339.3 670.7C339.45 666.97 339.67 661.98 339.9 657.6C340.13 653.22 340.38 648.78 340.7 644.4C341.02 640.02 341.4 635.68 341.8 631.3C342.2 626.92 342.7 621.15 343.1 618.1C343.5 615.05 343.85 614.08 344.2 613C344.55 611.92 345.03 611.83 345.2 611.6C345.33 611.83 345.77 611.92 346 613C346.23 614.08 346.38 615.05 346.6 618.1C346.82 621.15 347.07 626.92 347.3 631.3C347.53 635.68 347.77 640.02 348 644.4C348.23 648.78 348.47 653.22 348.7 657.6C348.93 661.98 349.22 666.97 349.4 670.7C349.58 674.43 349.63 676.5 349.8 680C349.97 683.5 350.18 687.8 350.4 691.7C350.62 695.6 350.78 699.18 351.1 703.4C351.42 707.62 351.8 713.12 352.3 717C352.8 720.88 353.42 723.52 354.1 726.7C354.78 729.88 355.58 732.98 356.4 736.1C357.22 739.22 358.23 743.08 359 745.4C359.77 747.72 360.13 747.48 361 750C361.87 752.52 363.27 757.25 364.2 760.5C365.13 763.75 365.63 767.03 366.6 769.5C367.57 771.97 368.95 773.27 370 775.3C371.05 777.33 372 779.47 372.9 781.7C373.8 783.93 374.75 787.05 375.4 788.7C376.05 790.35 375.95 790.37 376.8 791.6C377.65 792.83 378.8 794.37 380.5 796.1C382.2 797.83 384.58 800 387 802C389.42 804 392.13 806.11 395 808.1C397.87 810.09 401.27 812.12 404.2 813.93C407.13 815.73 409.65 817.26 412.6 818.94C415.55 820.62 418.83 822.4 421.9 823.99C424.97 825.58 427.7 826.93 431 828.47C434.3 830 437.97 831.65 441.7 833.2C445.43 834.75 450.28 836.61 453.4 837.79C456.52 838.97 457.48 839.3 460.4 840.28C463.32 841.27 467.2 842.56 470.9 843.7C474.6 844.84 478.72 846.04 482.6 847.11C486.48 848.19 491.3 849.41 494.2 850.16C497.1 850.9 496.22 850.7 500 851.57C503.78 852.44 511.07 854.12 516.9 855.37C522.73 856.62 529.05 857.88 535 859.06C540.95 860.25 547.73 861.53 552.6 862.47C557.47 863.41 560.8 864.04 564.2 864.69C567.6 865.34 571.53 866.11 573 866.39" fill="none" stroke="#c0504d" stroke-width="3" stroke-linecap="round" stroke-linejoin="round"/>
<path d="M122.2 831.17C124.9 830.66 132.78 829.17 138.4 828.09C144.02 827.01 151.03 825.64 155.9 824.68C160.77 823.72 163.8 823.11 167.6 822.34C171.4 821.56 175.8 820.64 178.7 820.02C181.6 819.41 182 819.33 185 818.65C188 817.97 192.8 816.89 196.7 815.94C200.6 814.99 204.52 814 208.4 812.94C212.28 811.87 215.57 810.98 220 809.55C224.43 808.12 231.1 805.79 235 804.35C238.9 802.9 240.05 802.41 243.4 800.91C246.75 799.4 252 796.89 255.1 795.33C258.2 793.77 259.48 793.01 262 791.54C264.52 790.06 267.47 788.27 270.2 786.47C272.93 784.66 275.87 782.59 278.4 780.71C280.93 778.82 283.17 777.03 285.4 775.18C287.63 773.32 289.67 771.47 291.8 769.58C293.93 767.68 296.15 765.8 298.2 763.8C300.25 761.8 302.22 759.85 304.1 757.6C305.98 755.35 308.08 752.53 309.5 750.3C310.92 748.07 311.5 746.57 312.6 744.2C313.7 741.83 315.03 739.02 316.1 736.1C317.17 733.18 317.93 729.43 319 726.7C320.07 723.97 321.43 722.23 322.5 719.7C323.57 717.17 324.42 714.8 325.4 711.5C326.38 708.2 327.42 703.6 328.4 699.9C329.38 696.2 330.45 692.28 331.3 689.3C332.15 686.32 332.88 685.1 333.5 682C334.12 678.9 334.5 674.77 335 670.7C335.5 666.63 336.07 661.98 336.5 657.6C336.93 653.22 337.25 649.62 337.6 644.4C337.95 639.18 338.3 632.03 338.6 626.3C338.9 620.57 339.17 615 339.4 610C339.63 605 339.77 601.23 340 596.3C340.23 591.37 340.52 585.5 340.8 580.4C341.08 575.3 341.33 570.35 341.7 565.7C342.07 561.05 342.58 555.65 343 552.5C343.42 549.35 343.83 547.93 344.2 546.8C344.57 545.67 345.03 545.88 345.2 545.7C345.37 545.88 345.95 545.67 346.2 546.8C346.45 547.93 346.47 549.35 346.7 552.5C346.93 555.65 347.33 561.05 347.6 565.7C347.87 570.35 348.07 575.3 348.3 580.4C348.53 585.5 348.78 591.37 349 596.3C349.22 601.23 349.4 605 349.6 610C349.8 615 349.95 621.3 350.2 626.3C350.45 631.3 350.77 635.97 351.1 640C351.43 644.03 351.72 646.85 352.2 650.5C352.68 654.15 353.33 658.1 354 661.9C354.67 665.7 355.57 670.12 356.2 673.3C356.83 676.48 357.08 678.33 357.8 681C358.52 683.67 359.6 686.15 360.5 689.3C361.4 692.45 362.33 696.2 363.2 699.9C364.07 703.6 364.78 708.2 365.7 711.5C366.62 714.8 367.62 716.77 368.7 719.7C369.78 722.63 371.13 725.98 372.2 729.1C373.27 732.22 374.03 735.68 375.1 738.4C376.17 741.12 377.62 743.38 378.6 745.4C379.58 747.42 379.62 748.43 381 750.5C382.38 752.57 384.57 755.22 386.9 757.8C389.23 760.38 392.12 763.33 395 766C397.88 768.67 401.27 771.4 404.2 773.79C407.13 776.18 409.65 778.17 412.6 780.33C415.55 782.48 418.83 784.74 421.9 786.72C424.97 788.7 427.7 790.36 431 792.22C434.3 794.07 437.97 796.02 441.7 797.84C445.43 799.66 450.28 801.78 453.4 803.12C456.52 804.46 457.48 804.82 460.4 805.9C463.32 806.99 467.2 808.41 470.9 809.64C474.6 810.87 478.72 812.15 482.6 813.29C486.48 814.43 491.3 815.69 494.2 816.47C497.1 817.24 496.22 817.04 500 817.92C503.78 818.8 511.07 820.52 516.9 821.74C522.73 822.97 529.05 824.2 535 825.29C540.95 826.38 547.73 827.49 552.6 828.27C557.47 829.05 560.8 829.51 564.2 829.98C567.6 830.45 571.53 830.93 573 831.12" fill="none" stroke="#9bbb59" stroke-width="3" stroke-linecap="round" stroke-linejoin="round"/>
<path d="M122.2 578.16C124.33 578.49 130.37 579.4 135 580.15C139.63 580.89 145 581.77 150 582.64C155 583.5 160 584.4 165 585.34C170 586.28 175 587.26 180 588.3C185 589.33 190 590.41 195 591.55C200 592.7 205 593.9 210 595.18C215 596.47 220 597.82 225 599.28C230 600.75 235 602.28 240 603.98C245 605.69 250.83 607.86 255 609.5C259.17 611.13 261.67 612.24 265 613.78C268.33 615.31 271.67 616.92 275 618.72C278.33 620.51 282.17 622.77 285 624.54C287.83 626.31 289.75 627.67 292 629.33C294.25 630.99 296.3 632.59 298.5 634.5C300.7 636.42 302.92 638.42 305.2 640.83C307.48 643.24 310.05 646.17 312.2 648.99C314.35 651.81 316.25 654.71 318.1 657.74C319.95 660.77 321.85 664.37 323.3 667.2C324.75 670.03 325.82 672.57 326.8 674.7C327.78 676.83 328.27 677.17 329.2 680C330.13 682.83 331.42 687.8 332.4 691.7C333.38 695.6 334.32 699.18 335.1 703.4C335.88 707.62 336.47 712.13 337.1 717C337.73 721.87 338.32 727.67 338.9 732.6C339.48 737.53 340.12 742.87 340.6 746.6C341.08 750.33 341.37 751.52 341.8 755C342.23 758.48 342.73 762.73 343.2 767.5C343.67 772.27 344.2 778.88 344.6 783.6C345 788.32 345.43 793.77 345.6 795.8C345.8 793.77 346.35 788.32 346.8 783.6C347.25 778.88 347.88 772.27 348.3 767.5C348.72 762.73 348.93 758.48 349.3 755C349.67 751.52 350 750.33 350.5 746.6C351 742.87 351.7 737.53 352.3 732.6C352.9 727.67 353.42 721.87 354.1 717C354.78 712.13 355.58 707.62 356.4 703.4C357.22 699.18 358.17 695.6 359 691.7C359.83 687.8 360.42 683.6 361.4 680C362.38 676.4 363.53 673.47 364.9 670.1C366.27 666.73 367.93 663.05 369.6 659.8C371.27 656.55 373.05 653.53 374.9 650.6C376.75 647.67 378.57 644.73 380.7 642.2C382.83 639.67 385.37 637.28 387.7 635.4C390.03 633.52 392.37 632.36 394.7 630.9C397.03 629.44 399.15 628.23 401.7 626.67C404.25 625.1 406.95 623.24 410 621.5C413.05 619.75 416.67 617.83 420 616.19C423.33 614.55 426.67 613.06 430 611.63C433.33 610.21 436.33 609.01 440 607.64C443.67 606.27 447.83 604.79 452 603.42C456.17 602.05 460.33 600.76 465 599.41C469.67 598.06 475 596.61 480 595.32C485 594.04 490 592.85 495 591.7C500 590.56 505 589.49 510 588.46C515 587.42 520 586.45 525 585.51C530 584.57 535 583.68 540 582.81C545 581.95 549.5 581.2 555 580.33C560.5 579.45 570 578.04 573 577.58" fill="none" stroke="#4f81bd" stroke-width="3" stroke-linecap="round" stroke-linejoin="round"/>
</g>
<g id="c2legend">
<path d="M135.7 673.1L176.8 673.1" fill="none" stroke="#c0504d" stroke-width="3.3" stroke-linecap="round" stroke-linejoin="round"/>
<path d="M135.7 704.2L176.8 704.2" fill="none" stroke="#9bbb59" stroke-width="3.3" stroke-linecap="round" stroke-linejoin="round"/>
<path d="M135.7 735L176.8 735" fill="none" stroke="#4f81bd" stroke-width="3.3" stroke-linecap="round" stroke-linejoin="round"/>
</g>
<g id="c2labels" opacity="0.999">
<text x="182" y="680.7" font-size="23.8" text-anchor="start" textLength="89.5" lengthAdjust="spacingAndGlyphs">Ambient</text>
<text x="182" y="711.5" font-size="23.8" text-anchor="start" textLength="141.5" lengthAdjust="spacingAndGlyphs">Antechamber</text>
<text x="182" y="742.3" font-size="23.8" text-anchor="start" textLength="84.5" lengthAdjust="spacingAndGlyphs">Altitude</text>
<text x="98.4" y="543.2" font-size="23.2" text-anchor="end" textLength="65.5" lengthAdjust="spacingAndGlyphs">1E+16</text>
<text x="98.4" y="588.69" font-size="23.2" text-anchor="end" textLength="65.5" lengthAdjust="spacingAndGlyphs">1E+15</text>
<text x="98.4" y="634.18" font-size="23.2" text-anchor="end" textLength="65.5" lengthAdjust="spacingAndGlyphs">1E+14</text>
<text x="98.4" y="679.66" font-size="23.2" text-anchor="end" textLength="65.5" lengthAdjust="spacingAndGlyphs">1E+13</text>
<text x="98.4" y="725.15" font-size="23.2" text-anchor="end" textLength="65.5" lengthAdjust="spacingAndGlyphs">1E+12</text>
<text x="98.4" y="770.64" font-size="23.2" text-anchor="end" textLength="65.5" lengthAdjust="spacingAndGlyphs">1E+11</text>
<text x="98.4" y="816.12" font-size="23.2" text-anchor="end" textLength="65.5" lengthAdjust="spacingAndGlyphs">1E+10</text>
<text x="98.4" y="861.61" font-size="23.2" text-anchor="end" textLength="65.5" lengthAdjust="spacingAndGlyphs">1E+09</text>
<text x="98.4" y="907.1" font-size="23.2" text-anchor="end" textLength="65.5" lengthAdjust="spacingAndGlyphs">1E+08</text>
<text x="597" y="543.2" font-size="23.2" text-anchor="start" textLength="51.5" lengthAdjust="spacingAndGlyphs">1E+5</text>
<text x="597" y="615.98" font-size="23.2" text-anchor="start" textLength="51.5" lengthAdjust="spacingAndGlyphs">1E+4</text>
<text x="597" y="688.76" font-size="23.2" text-anchor="start" textLength="51.5" lengthAdjust="spacingAndGlyphs">1E+3</text>
<text x="597" y="761.54" font-size="23.2" text-anchor="start" textLength="51.5" lengthAdjust="spacingAndGlyphs">1E+2</text>
<text x="597" y="834.32" font-size="23.2" text-anchor="start" textLength="51.5" lengthAdjust="spacingAndGlyphs">1E+1</text>
<text x="597" y="907.1" font-size="23.2" text-anchor="start" textLength="51.5" lengthAdjust="spacingAndGlyphs">1E+0</text>
<text transform="translate(122.2 940.7) scale(1.03 1)" font-size="23.2" text-anchor="middle">-120</text>
<text transform="translate(178.55 940.7) scale(1.03 1)" font-size="23.2" text-anchor="middle">-90</text>
<text transform="translate(234.9 940.7) scale(1.03 1)" font-size="23.2" text-anchor="middle">-60</text>
<text transform="translate(291.25 940.7) scale(1.03 1)" font-size="23.2" text-anchor="middle">-30</text>
<text transform="translate(347.6 940.7) scale(1.03 1)" font-size="23.2" text-anchor="middle">0</text>
<text transform="translate(403.95 940.7) scale(1.03 1)" font-size="23.2" text-anchor="middle">30</text>
<text transform="translate(460.3 940.7) scale(1.03 1)" font-size="23.2" text-anchor="middle">60</text>
<text transform="translate(516.65 940.7) scale(1.03 1)" font-size="23.2" text-anchor="middle">90</text>
<text transform="translate(573 940.7) scale(1.03 1)" font-size="23.2" text-anchor="middle">120</text>
<text x="348" y="978.3" font-size="23.8" text-anchor="middle" textLength="355" lengthAdjust="spacingAndGlyphs">Time from closest approach (min)</text>
<text x="19.2" y="717.2" font-size="23.8" text-anchor="middle" textLength="124" lengthAdjust="spacingAndGlyphs" transform="rotate(-90 19.2 717.2)">Density /m<tspan font-size="14" dy="-8.5">3</tspan></text>
<text x="680.4" y="717.8" font-size="23.8" text-anchor="middle" textLength="139" lengthAdjust="spacingAndGlyphs" transform="rotate(-90 680.4 717.8)">Altitude (km)</text>
</g>
</svg>
</body></html>
